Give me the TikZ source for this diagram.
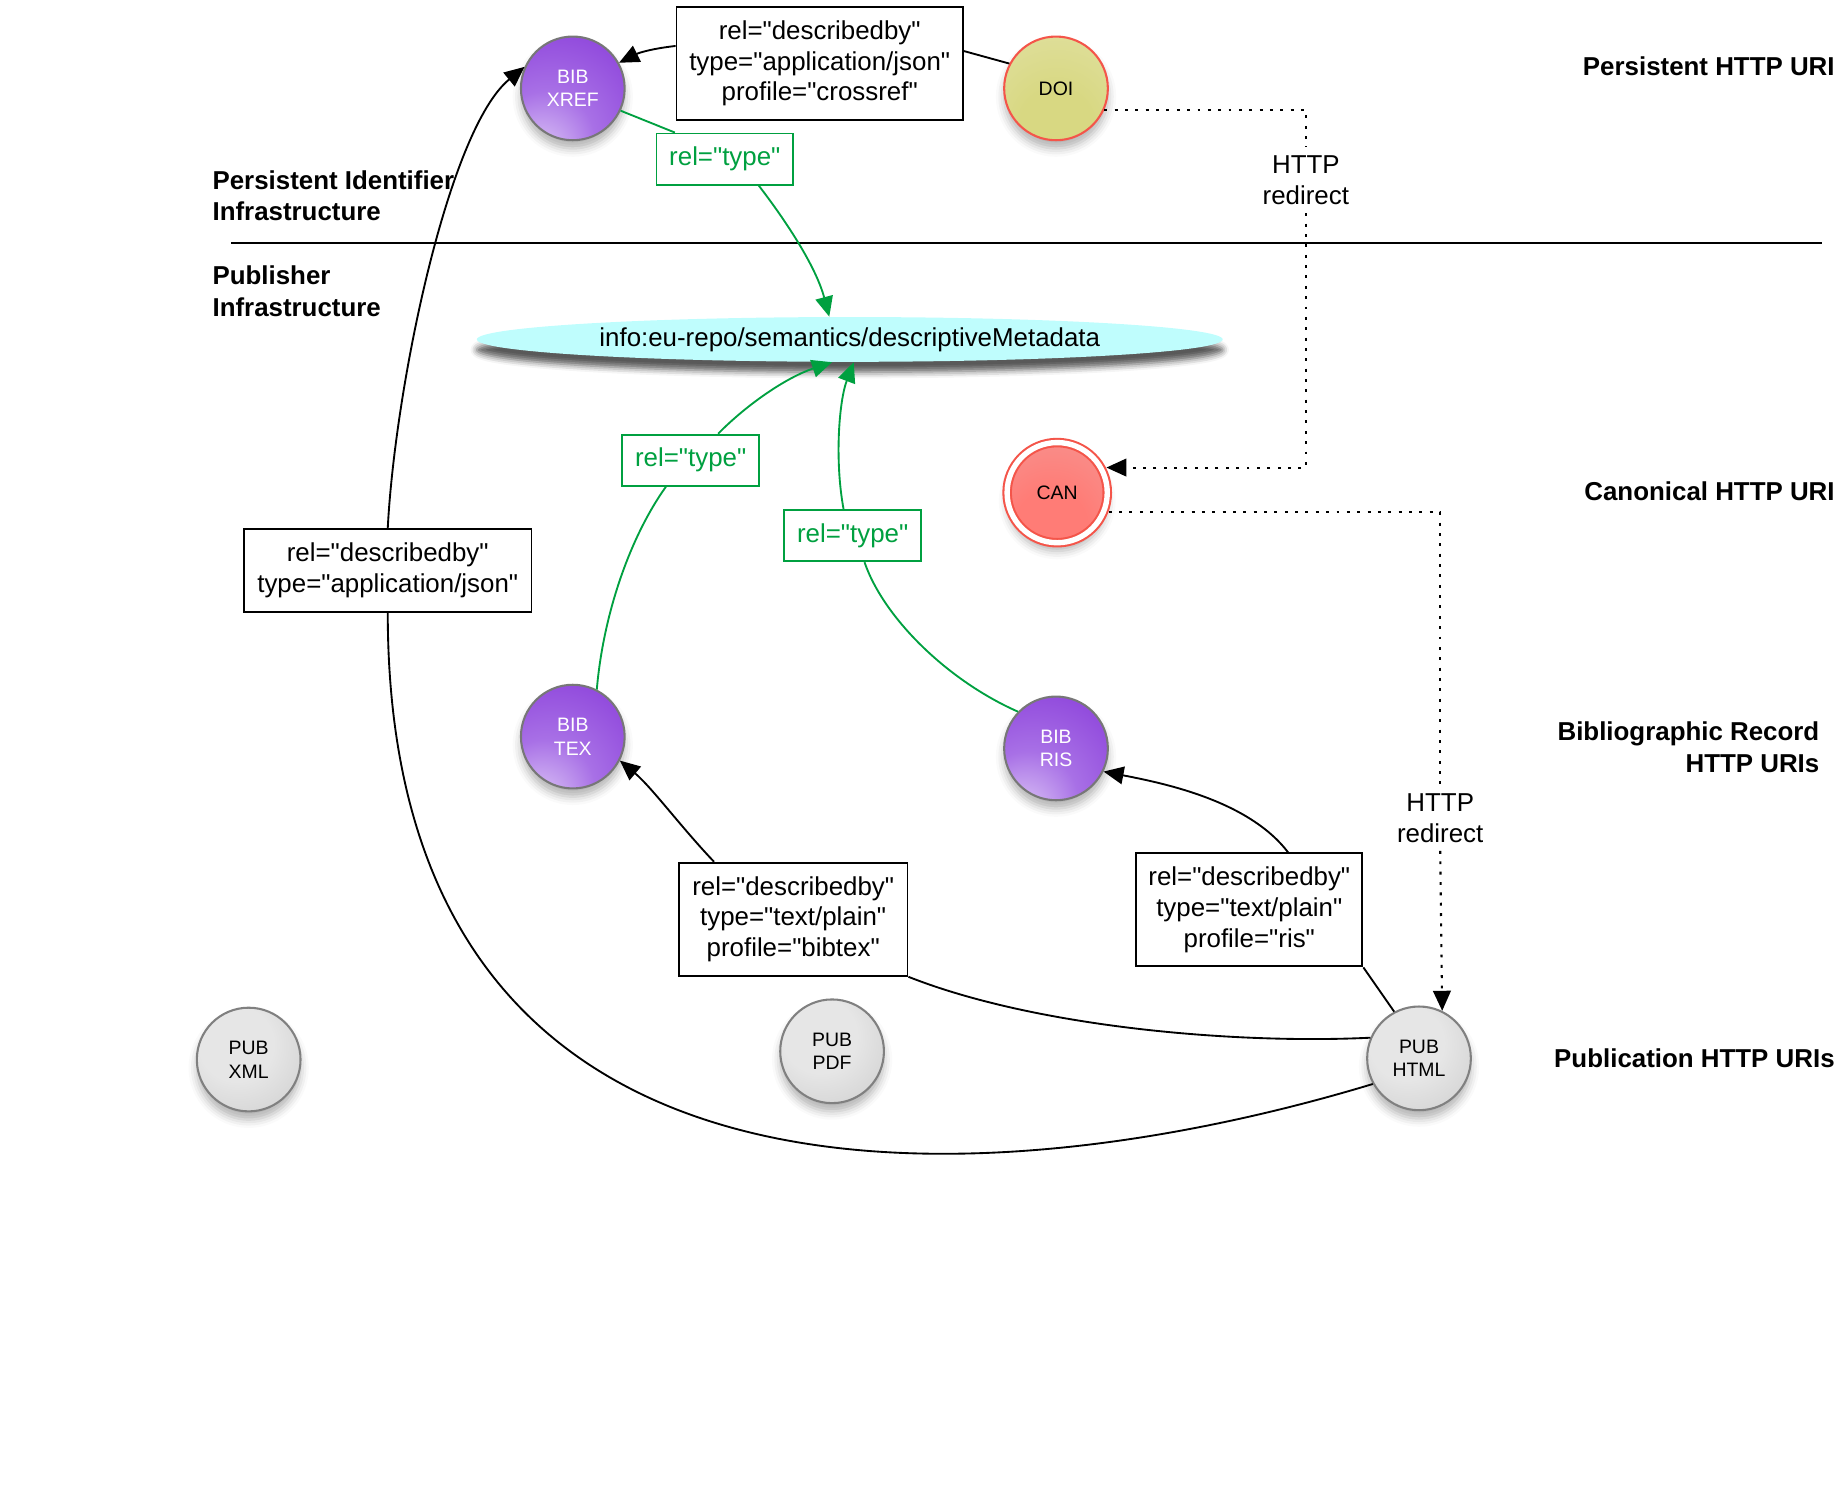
\documentclass[tikz,border=0pt]{standalone}
\usepackage{fontspec}
\setmainfont{Liberation Sans}[Ligatures=TeXOff]
\usetikzlibrary{arrows.meta,shapes.geometric,shadows.blur}
\definecolor{bibdeep}{HTML}{8638D8}
\definecolor{bibmid}{HTML}{A870E6}
\definecolor{bibhigh}{HTML}{DCC6F6}
\definecolor{bibrim}{HTML}{777777}
\definecolor{pubtop}{HTML}{E6E6E6}
\definecolor{pubbot}{HTML}{BDBDBD}
\definecolor{pubrim}{HTML}{808080}
\definecolor{doiin}{HTML}{D8D882}
\definecolor{doiout}{HTML}{E5E5B2}
\definecolor{canin}{HTML}{FF7C76}
\definecolor{canout}{HTML}{F1A3A2}
\definecolor{alertred}{HTML}{F4554A}
\definecolor{metacyan}{HTML}{BFFDFD}
\definecolor{typegreen}{HTML}{00A040}
\pgfdeclareradialshading{bibshade}{\pgfpoint{-20bp}{-38bp}}{color(0bp)=(white);color(5bp)=(bibhigh);color(24bp)=(bibmid);color(52bp)=(bibdeep);color(72bp)=(bibdeep)}
\pgfdeclareradialshading{pubshade}{\pgfpoint{-8bp}{10bp}}{color(0bp)=(pubtop);color(18bp)=(pubtop);color(58bp)=(pubbot);color(72bp)=(pubbot)}
\pgfdeclareradialshading{doishade}{\pgfpoint{0bp}{-25bp}}{color(0bp)=(doiin);color(18bp)=(doiin);color(60bp)=(doiout);color(72bp)=(doiout)}
\pgfdeclareradialshading{canshade}{\pgfpoint{-4bp}{-22bp}}{color(0bp)=(canin);color(18bp)=(canin);color(60bp)=(canout);color(72bp)=(canout)}
\newcommand\labfont{\fontsize{12.5}{14.8}\selectfont}
\newcommand\ballfont{\fontsize{9.4}{11.4}\selectfont}
\newcommand\headfont{\fontsize{12.5}{15.2}\selectfont\bfseries}
\tikzset{
  heading/.style={font=\headfont,inner sep=0pt},
  ball/.style={circle,minimum size=1.76cm,inner sep=0pt,align=center,font=\ballfont,line width=1pt,blur shadow={shadow xshift=0pt,shadow yshift=-4pt,shadow blur radius=4pt,shadow opacity=30}},
  bibball/.style={ball,draw=bibrim,shading=bibshade,text=white},
  pubball/.style={ball,draw=pubrim,shading=pubshade},
  doiball/.style={ball,draw=alertred,shading=doishade},
  canball/.style={ball,minimum size=1.7cm,draw=alertred,double=white,double distance=2.6pt,shading=canshade,outer sep=2.5pt},
  metaoval/.style={ellipse,fill=metacyan,minimum width=12.66cm,minimum height=0.76cm,inner sep=0pt,font=\labfont,blur shadow={shadow xshift=0pt,shadow yshift=-5pt,shadow blur radius=3pt,shadow opacity=65}},
  linkbox/.style={draw=black,fill=white,line width=0.9pt,align=center,inner sep=0pt,font=\labfont},
  typebox/.style={draw=typegreen,text=typegreen,fill=white,line width=0.9pt,inner sep=0pt,font=\labfont,minimum width=2.32cm,minimum height=0.87cm},
  link/.style={draw=black,line width=0.9pt},
  linkarrow/.style={link,-{Triangle[length=3.4mm,width=3mm]}},
  typeline/.style={draw=typegreen,line width=0.9pt},
  typearrow/.style={typeline,-{Triangle[length=3.4mm,width=3mm]}},
  redirline/.style={draw=black,line width=1pt,dash pattern=on 1.4pt off 3.6pt},
  redirarrow/.style={redirline,-{Triangle[length=3.4mm,width=3mm]}},
  redirtext/.style={align=center,font=\labfont,inner sep=4pt},
  divider/.style={draw=black,line width=0.9pt}
}
\begin{document}
\begin{tikzpicture}[x=0.02cm,y=-0.02cm]
  \useasboundingbox (0,0) rectangle (1568,1260);
  \node[heading,anchor=west,align=left] (pidinfra) at (180,166) {Persistent Identifier\\Infrastructure};
  \node[heading,anchor=west,align=left] (pubinfra) at (180,247) {Publisher\\Infrastructure};
  \coordinate (splitleft) at (196,206);
  \coordinate (splitright) at (1546,206);
  \draw[divider] (splitleft) -- (splitright);
  \node[heading,anchor=east] (persisturi) at (1557,56) {Persistent HTTP URI};
  \node[heading,anchor=east] (canonuri) at (1557,417) {Canonical HTTP URI};
  \node[heading,anchor=east,align=right] (biburi) at (1544,634) {Bibliographic Record\\HTTP URIs};
  \node[heading,anchor=east] (puburi) at (1557,898) {Publication HTTP URIs};
  \node[bibball] (xref) at (486,75) {BIB\\XREF};
  \node[doiball] (doi) at (896,75) {DOI};
  \node[canball] (can) at (897,418) {CAN};
  \node[bibball] (bibtex) at (486,625) {BIB\\TEX};
  \node[bibball] (ris) at (896,635) {BIB\\RIS};
  \node[pubball] (pubxml) at (211,899) {PUB\\XML};
  \node[pubball] (pubpdf) at (706,892) {PUB\\PDF};
  \node[pubball] (pubhtml) at (1204,898) {PUB\\HTML};
  \node[metaoval] (meta) at (721,288) {info:eu-repo/semantics/descriptiveMetadata};
  \node[linkbox,minimum width=4.86cm,minimum height=1.92cm] (crossrefbox) at (695.5,54) {rel="describedby"\\type="application/json"\\profile="crossref"};
  \node[linkbox,minimum width=4.88cm,minimum height=1.40cm] (jsonbox) at (329,484) {rel="describedby"\\type="application/json"};
  \node[linkbox,minimum width=3.88cm,minimum height=1.92cm] (bibtexbox) at (673,780) {rel="describedby"\\type="text/plain"\\profile="bibtex"};
  \node[linkbox,minimum width=3.84cm,minimum height=1.92cm] (risbox) at (1060,772) {rel="describedby"\\type="text/plain"\\profile="ris"};
  \node[typebox] (typeone) at (615,135) {rel="type"};
  \node[typebox] (typetwo) at (586,390.5) {rel="type"};
  \node[typebox] (typethree) at (723.5,454.5) {rel="type"};
  \node[redirtext] (redirtop) at (1108,153) {HTTP\\redirect};
  \node[redirtext] (redirbot) at (1222,694) {HTTP\\redirect};
  \draw[link] (doi.152) -- (crossrefbox.5);
  \draw[linkarrow] (crossrefbox.173) to[bend right=10] (xref.29);
  \draw[typeline] (xref.-25) -- (typeone.152);
  \draw[typearrow] (typeone.-38) .. controls (665,185) and (692,225) .. (meta.132);
  \draw[typeline] (bibtex.63) .. controls (512,520) and (535,455) .. (typetwo.-133);
  \draw[typearrow] (typetwo.44) .. controls (635,342) and (668,320) .. (meta.-128);
  \draw[typeline] (ris.136) .. controls (805,578) and (750,525) .. (typethree.-66);
  \draw[typearrow] (typethree.109) .. controls (708,390) and (712,340) .. (meta.-80);
  \draw[redirline] (doi.-24) -| (redirtop.north);
  \draw[redirarrow] (redirtop.south) |- (can.27);
  \draw[redirline] (can.-21) -| (redirbot.north);
  \draw[redirarrow] (redirbot.south) -- (pubhtml.64);
  \draw[link] (pubhtml.118) -- (risbox.south east);
  \draw[linkarrow] (risbox.56) .. controls (1060,680) and (990,665) .. (ris.-26);
  \draw[link] (pubhtml.157) .. controls (1050,886) and (880,872) .. (bibtexbox.south east);
  \draw[linkarrow] (bibtexbox.144) .. controls (578,702) and (553,668) .. (bibtex.-27);
  \draw[link] (pubhtml.-151) .. controls (860,1012) and (329,1068) .. (jsonbox.south);
  \draw[linkarrow] (jsonbox.north) .. controls (335,330) and (380,110) .. (xref.156);
\end{tikzpicture}
\end{document}
